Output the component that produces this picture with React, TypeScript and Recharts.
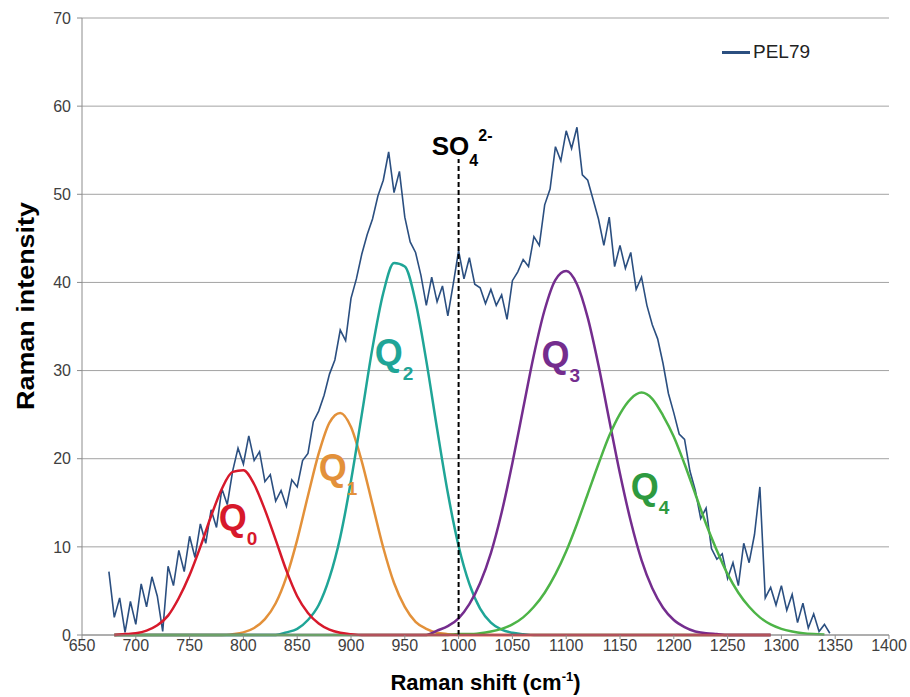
import { LineChart, Line, XAxis, YAxis, CartesianGrid, Legend, ReferenceDot } from "recharts"

const FONT = "'Liberation Sans', Arial, sans-serif"

// x axis / y axis ticks
const shiftTicks = [650, 700, 750, 800, 850, 900, 950, 1000, 1050, 1100, 1150, 1200, 1250, 1300, 1350, 1400]
const intensityTicks = [0, 10, 20, 30, 40, 50, 60, 70]

// measured spectrum PEL79
const pelShift = [
  675, 680, 685, 690, 695, 700, 705, 710, 715, 720, 725, 730, 735, 740, 745, 750, 755, 760, 765, 770,
  775, 780, 785, 790, 795, 800, 805, 810, 815, 820, 825, 830, 835, 840, 845, 850, 855, 860, 865, 870,
  875, 880, 885, 890, 895, 900, 905, 910, 915, 920, 925, 930, 935, 940, 945, 950, 955, 960, 965, 970,
  975, 980, 985, 990, 995, 1000, 1005, 1010, 1015, 1020, 1025, 1030, 1035, 1040, 1045, 1050, 1055, 1060, 1065, 1070,
  1075, 1080, 1085, 1090, 1095, 1100, 1105, 1110, 1115, 1120, 1125, 1130, 1135, 1140, 1145, 1150, 1155, 1160, 1165, 1170,
  1175, 1180, 1185, 1190, 1195, 1200, 1205, 1210, 1215, 1220, 1225, 1230, 1235, 1240, 1245, 1250, 1255, 1260, 1265, 1270,
  1275, 1280, 1285, 1290, 1295, 1300, 1305, 1310, 1315, 1320, 1325, 1330, 1335, 1340, 1345,
]
const pel79 = [
  7.2, 2.0, 4.2, 0.3, 3.8, 1.2, 5.8, 3.2, 6.6, 4.4, 0.4, 7.8, 5.6, 9.6, 7.2, 11.2, 8.8, 12.6, 10.4, 14.2,
  12.2, 16.6, 14.8, 18.6, 21.2, 19.4, 22.6, 19.8, 20.8, 17.4, 18.2, 15.2, 16.4, 14.6, 17.6, 16.8, 19.8, 20.6, 24.2, 25.4,
  27.2, 29.6, 31.2, 34.6, 33.4, 38.2, 40.4, 43.2, 45.4, 47.2, 49.8, 51.6, 54.8, 50.2, 52.6, 47.4, 44.6, 43.4, 40.8, 37.4,
  40.6, 37.8, 39.6, 36.2, 39.8, 43.6, 40.4, 42.8, 39.8, 39.4, 37.6, 39.2, 37.4, 38.6, 35.8, 40.2, 41.2, 42.6, 41.8, 45.2,
  44.2, 48.8, 50.6, 55.4, 53.8, 57.2, 55.2, 57.6, 52.2, 51.6, 49.4, 47.2, 44.2, 47.4, 41.8, 44.2, 41.6, 43.4, 39.2, 40.6,
  37.4, 35.2, 33.6, 30.8, 27.4, 25.2, 22.8, 22.2, 18.6, 16.4, 13.2, 14.4, 9.8, 8.6, 9.2, 6.4, 8.2, 5.6, 10.4, 8.2,
  11.4, 16.8, 4.2, 5.4, 3.4, 5.6, 2.8, 4.6, 1.4, 3.6, 0.8, 2.4, 0.4, 1.2, 0.2,
]

// fitted bands Q0..Q4
const compShift = [
  680, 690, 700, 710, 720, 730, 740, 750, 760, 770, 780, 790, 800, 810, 820, 830, 840, 850, 860, 870,
  880, 890, 900, 910, 920, 930, 940, 950, 960, 970, 980, 990, 1000, 1010, 1020, 1030, 1040, 1050, 1060, 1070,
  1080, 1090, 1100, 1110, 1120, 1130, 1140, 1150, 1160, 1170, 1180, 1190, 1200, 1210, 1220, 1230, 1240, 1250, 1260, 1270,
  1280, 1290, 1300, 1310, 1320, 1330, 1340,
]
const q0 = [
  0, 0.1, 0.2, 0.5, 1.1, 2.2, 4.2, 6.8, 10.0, 13.5, 16.6, 18.5, 18.7, 17.1, 14.2, 10.8, 7.3, 4.4, 2.5, 1.3,
  0.6, 0.25, 0.1, 0, 0, 0, 0, 0, 0, 0, 0, 0, 0, 0, 0, 0, 0, 0, 0, 0,
  0, 0, 0, 0, 0, 0, 0, 0, 0, 0, 0, 0, 0, 0, 0, 0, 0, 0, 0, 0,
  0, 0, null, null, null, null, null,
]
const q1 = [
  0, 0, 0, 0, 0, 0, 0, 0, 0, 0, 0, 0.1, 0.3, 0.8, 1.8, 3.6, 6.6, 10.8, 15.8, 20.6,
  24.1, 25.2, 23.6, 19.7, 14.8, 9.9, 5.9, 3.2, 1.5, 0.7, 0.25, 0.1, 0, 0, 0, 0, 0, 0, 0, 0,
  0, 0, 0, 0, 0, 0, 0, 0, 0, 0, 0, 0, 0, 0, 0, 0, 0, 0, 0, 0,
  0, 0, null, null, null, null, null,
]
const q2 = [
  0, 0, 0, 0, 0, 0, 0, 0, 0, 0, 0, 0, 0, 0, 0, 0, 0.3, 0.7, 1.7, 3.4,
  6.5, 11.1, 17.5, 25.0, 32.6, 38.8, 42.2, 41.8, 37.8, 31.1, 23.4, 16.1, 10.1, 5.8, 3.0, 1.4, 0.6, 0.25, 0.1, 0,
  0, 0, 0, 0, 0, 0, 0, 0, 0, 0, 0, 0, 0, 0, 0, 0, 0, 0, 0, 0,
  0, 0, null, null, null, null, null,
]
const q3 = [
  0, 0, 0, 0, 0, 0, 0, 0, 0, 0, 0, 0, 0, 0, 0, 0, 0, 0, 0, 0,
  0, 0, 0, 0, 0, 0, 0, 0, 0, 0, 0.5, 1.0, 1.9, 3.5, 5.9, 9.3, 13.9, 19.5, 25.7, 31.8,
  36.9, 40.3, 41.3, 39.8, 36.0, 30.6, 24.4, 18.3, 12.9, 8.5, 5.3, 3.1, 1.7, 0.9, 0.4, 0.2, 0.1, 0, 0, 0,
  0, 0, null, null, null, null, null,
]
const q4 = [
  0, 0, 0, 0, 0, 0, 0, 0, 0, 0, 0, 0, 0, 0, 0, 0, 0, 0, 0, 0,
  0, 0, 0, 0, 0, 0, 0, 0, 0, 0, 0, 0, 0.1, 0.1, 0.2, 0.4, 0.7, 1.2, 2.0, 3.2,
  4.8, 6.9, 9.5, 12.6, 16.0, 19.4, 22.6, 25.1, 26.8, 27.5, 26.8, 24.9, 22.5, 19.4, 16.0, 12.6, 9.6, 6.9, 4.8, 3.2,
  2.0, 1.2, 0.7, 0.4, 0.2, 0.1, 0.05,
]

// sulfate marker
const so4Shift = [1000, 1000]
const so4Level = [0, 54]

const spectrum = pelShift.map((s, i) => ({ shift: s, pel79: pel79[i] }))
const bands = compShift.map((s, i) => ({ shift: s, q0: q0[i], q1: q1[i], q2: q2[i], q3: q3[i], q4: q4[i] }))
const so4 = so4Shift.map((s, i) => ({ shift: s, so4: so4Level[i] }))

const RED = "#d7192b"
const ORANGE = "#e3913a"
const TEAL = "#1fa597"
const PURPLE = "#742d8e"
const GREEN = "#4db447"
const BLUE = "#2b4f80"

function qLabel(sub: string, color: string) {
  return (props: any) => {
    const vb = props.viewBox || { x: 0, y: 0 }
    return (
      <text x={vb.x} y={vb.y} fill={color} fontFamily={FONT} fontWeight="bold" fontSize={36}>
        Q<tspan fontSize={19} dy={15}>{sub}</tspan>
      </text>
    )
  }
}

function so4Label(props: any) {
  const vb = props.viewBox || { x: 0, y: 0 }
  return (
    <text x={vb.x} y={vb.y} fill="#000" fontFamily={FONT} fontWeight="bold" fontSize={26}>
      SO<tspan fontSize={16} dy={11}>4</tspan>
      <tspan fontSize={16} dy={-25}>2-</tspan>
    </text>
  )
}

function LegendBox() {
  return (
    <div style={{ display: "flex", alignItems: "center", fontFamily: FONT, fontSize: 19, color: "#222", lineHeight: "22px" }}>
      <span style={{ display: "inline-block", width: 28, height: 3, background: BLUE, marginRight: 3 }} />
      PEL79
    </div>
  )
}

export default function App() {
  return (
    <div style={{ position: "absolute", left: 0, top: 0, width: 910, height: 697, background: "#fff" }}>
      <LineChart width={910} height={697} margin={{ top: 18, right: 21, bottom: 0, left: 0 }}>
        <CartesianGrid vertical={false} stroke="#a3a3a3" />
        <XAxis
          type="number"
          dataKey="shift"
          domain={[650, 1400]}
          ticks={shiftTicks}
          height={62}
          tick={{ fontSize: 16, fill: "#404040", fontFamily: FONT }}
          tickSize={4}
          tickMargin={1}
          axisLine={{ stroke: "#8c8c8c" }}
          tickLine={{ stroke: "#8c8c8c" }}
          label={{
            content: (p: any) => {
              const vb = p.viewBox || { x: 82, y: 635, width: 807, height: 62 }
              return (
                <text x={vb.x + vb.width / 2} y={vb.y + vb.height - 7} textAnchor="middle" fontFamily={FONT} fontWeight="bold" fontSize={22} fill="#000">
                  Raman shift (cm<tspan fontSize={13} dy={-9}>-1</tspan><tspan dy={9}>)</tspan>
                </text>
              )
            },
          }}
        />
        <YAxis
          type="number"
          domain={[0, 70]}
          ticks={intensityTicks}
          width={82}
          tick={{ fontSize: 16, fill: "#404040", fontFamily: FONT }}
          tickSize={5}
          tickMargin={6}
          axisLine={{ stroke: "#8c8c8c" }}
          tickLine={{ stroke: "#8c8c8c" }}
          label={{
            content: () => (
              <text
                x={34}
                y={306}
                transform="rotate(-90 34 306)"
                textAnchor="middle"
                fontFamily={FONT}
                fontWeight="bold"
                fontSize={23}
                fill="#000"
                textLength={208}
                lengthAdjust="spacingAndGlyphs"
              >
                Raman intensity
              </text>
            ),
          }}
        />
        <Legend
          layout="horizontal"
          verticalAlign="middle"
          align="center"
          wrapperStyle={{ top: 41, left: 722, width: 120, height: 22 }}
          content={() => <LegendBox />}
        />
        <Line data={spectrum} dataKey="pel79" type="linear" stroke={BLUE} strokeWidth={1.6} dot={false} isAnimationActive={false} />
        <Line data={bands} dataKey="q1" type="monotone" stroke={ORANGE} strokeWidth={2.5} dot={false} isAnimationActive={false} />
        <Line data={bands} dataKey="q2" type="monotone" stroke={TEAL} strokeWidth={2.5} dot={false} isAnimationActive={false} />
        <Line data={bands} dataKey="q3" type="monotone" stroke={PURPLE} strokeWidth={2.5} dot={false} isAnimationActive={false} />
        <Line data={bands} dataKey="q4" type="monotone" stroke={GREEN} strokeWidth={2.5} dot={false} isAnimationActive={false} />
        <Line data={bands} dataKey="q0" type="monotone" stroke={RED} strokeWidth={2.5} dot={false} isAnimationActive={false} />
        <Line data={so4} dataKey="so4" type="linear" stroke="#000" strokeWidth={2} strokeDasharray="5 3" dot={false} isAnimationActive={false} />
        <ReferenceDot x={778} y={11.8} r={1} fill="none" stroke="none" label={{ content: qLabel("0", RED) }} />
        <ReferenceDot x={871} y={17.5} r={1} fill="none" stroke="none" label={{ content: qLabel("1", ORANGE) }} />
        <ReferenceDot x={923} y={30.5} r={1} fill="none" stroke="none" label={{ content: qLabel("2", TEAL) }} />
        <ReferenceDot x={1078} y={30.3} r={1} fill="none" stroke="none" label={{ content: qLabel("3", PURPLE) }} />
        <ReferenceDot x={1161} y={15.3} r={1} fill="none" stroke="none" label={{ content: qLabel("4", "#2e9a40") }} />
        <ReferenceDot x={976} y={54.3} r={1} fill="none" stroke="none" label={{ content: so4Label }} />
      </LineChart>
    </div>
  )
}
